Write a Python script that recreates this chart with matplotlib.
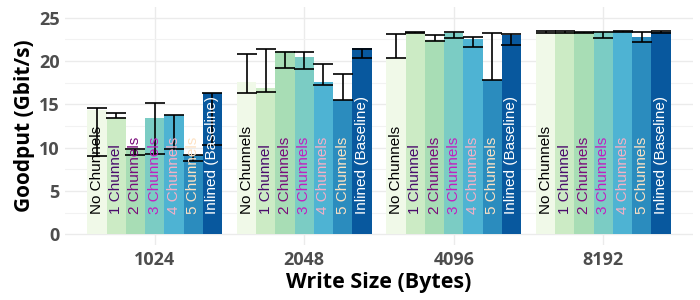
import matplotlib.pyplot as plt
import numpy as np

# data
sizes = ["1024", "2048", "4096", "8192"]
configs = ["No Chunnels", "1 Chunnel", "2 Chunnels", "3 Chunnels",
           "4 Chunnels", "5 Chunnels", "Inlined (Baseline)"]

# goodput per config (rows) and write size (cols)
goodput = [
    [14.4, 17.6, 20.3, 23.4],
    [13.4, 16.9, 23.3, 23.4],
    [9.7, 21.2, 22.4, 23.4],
    [13.4, 20.5, 23.3, 23.4],
    [13.8, 17.6, 22.5, 23.4],
    [9.1, 15.5, 17.8, 22.8],
    [16.3, 21.5, 23.0, 23.4],
]
err_lo = [
    [9.0, 16.3, 20.3, 23.3],
    [13.4, 16.4, 23.2, 23.3],
    [9.1, 19.2, 22.3, 23.2],
    [9.3, 19.1, 22.7, 22.7],
    [9.8, 17.2, 21.6, 23.4],
    [8.5, 15.5, 17.8, 22.2],
    [10.3, 20.4, 21.9, 23.3],
]
err_hi = [
    [14.6, 20.8, 23.1, 23.5],
    [14.0, 21.4, 23.4, 23.5],
    [9.8, 21.1, 23.0, 23.4],
    [15.2, 21.1, 23.4, 23.4],
    [13.8, 19.7, 22.8, 23.5],
    [9.1, 18.5, 23.3, 23.4],
    [16.3, 21.4, 23.1, 23.5],
]

bar_colors = ['#f0f9e8', '#ccebc5', '#a8ddb5', '#7bccc4', '#4eb3d3', '#2b8cbe', '#08589e']
text_colors = ['black', '#4a0a6b', '#7a0a7a', '#c21fc0', '#f6b0c6', '#fde2c4', 'white']

fig = plt.figure(figsize=(7, 3), dpi=100)
ax = fig.add_axes([65 / 700, 1 - 245 / 300, 628 / 700, 238 / 300])

x = np.arange(len(sizes))
w = 0.9 / len(configs)
for i, cfg in enumerate(configs):
    xs = x + (i - 3) * w
    ax.bar(xs, goodput[i], width=w, color=bar_colors[i], zorder=2)
    lo = np.array(err_lo[i])
    hi = np.array(err_hi[i])
    ax.errorbar(xs, (lo + hi) / 2, yerr=(hi - lo) / 2, fmt='none', ecolor='black',
                elinewidth=1.2, capsize=6.9, capthick=1.2, zorder=3)
    for xx in xs:
        ax.text(xx, 2.3, cfg, rotation=90, ha='center', va='bottom',
                color=text_colors[i], fontsize=11, family='Liberation Sans', zorder=4)

ax.set_xlim(-0.6, 3.6)
ax.set_ylim(-1.25, 26.25)
ax.set_xticks(x)
ax.set_xticklabels(sizes)
ax.set_yticks([0, 5, 10, 15, 20, 25])
ax.set_yticks([2.5, 7.5, 12.5, 17.5, 22.5], minor=True)
ax.grid(True, which='major', color='#ebebeb', linewidth=1.0, zorder=0)
ax.grid(True, which='minor', axis='y', color='#f2f2f2', linewidth=0.8, zorder=0)
ax.set_axisbelow(True)
for s in ax.spines.values():
    s.set_visible(False)
ax.tick_params(which='both', length=0)
ax.tick_params(axis='both', labelsize=13, labelcolor='#4d4d4d', pad=4)
for lab in ax.get_xticklabels() + ax.get_yticklabels():
    lab.set_fontweight('bold')
    lab.set_family('Open Sans')
ax.set_xlabel("Write Size (Bytes)", fontsize=15.5, fontweight='bold', family='Open Sans', labelpad=2.5)
ax.set_ylabel("Goodput (Gbit/s)", fontsize=15, fontweight='bold', family='Open Sans', labelpad=3)

fig.savefig("out.png", dpi=100)
